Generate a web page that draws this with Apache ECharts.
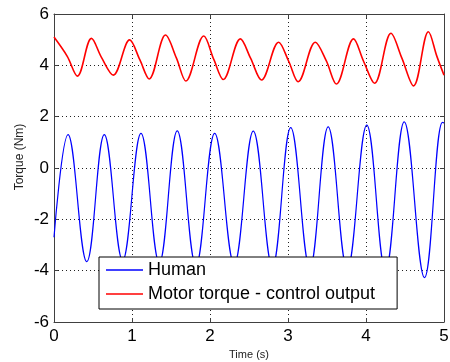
<!DOCTYPE html>
<html>
<head>
<meta charset="utf-8">
<script src="https://cdn.jsdelivr.net/npm/echarts@6/dist/echarts.min.js"></script>
<style>
  html, body { margin: 0; padding: 0; background: #fff; }
  #chart { width: 450px; height: 362px; }
</style>
</head>
<body>
<div id="chart"></div>
<script>
// values (time in s, torque in Nm)
var humanTime = [0, 0.18, 0.42, 0.645, 0.88, 1.115, 1.35, 1.58, 1.82, 2.06, 2.31, 2.555, 2.80, 3.035, 3.28, 3.515, 3.76, 4.01, 4.25, 4.49, 4.75, 4.98, 5.0];
var humanTorque = [-2.7, 1.3, -3.65, 1.3, -3.6, 1.35, -3.7, 1.45, -3.8, 1.35, -3.75, 1.44, -3.85, 1.57, -3.9, 1.6, -3.95, 1.67, -4.0, 1.8, -4.27, 1.78, 1.76];

// peak, knee on the way down, trough for every cycle
var motorTime = [0.00, 0.17, 0.30, 0.48, 0.61, 0.76, 0.97, 1.10, 1.22, 1.43, 1.57, 1.69,
    1.92, 2.05, 2.17, 2.39, 2.52, 2.66, 2.88, 3.01, 3.13, 3.35, 3.49, 3.62,
    3.84, 3.97, 4.11, 4.32, 4.46, 4.61, 4.80, 4.91, 5.00];
var motorTorque = [5.10, 4.35, 3.58, 5.05, 4.30, 3.62, 4.99, 4.22, 3.47, 5.18, 4.28, 3.39,
    5.14, 4.22, 3.45, 5.03, 4.28, 3.43, 4.90, 4.15, 3.36, 4.90, 4.18, 3.27,
    5.03, 4.15, 3.30, 5.25, 4.28, 3.20, 5.31, 4.34, 3.62];

var seriesNames = ['Human', 'Motor torque - control output'];
var xTicks = { min: 0, max: 5, interval: 1 };
var yTicks = { min: -6, max: 6, interval: 2 };

function pairs(xs, ys) {
    return xs.map(function (x, i) { return [x, ys[i]]; });
}

var font = 'Liberation Sans, Arial, sans-serif';
var axisColor = '#404040';

function axis(pos, showLabel, extra) {
    var a = {
        type: 'value',
        position: pos,
        axisLine: { show: true, onZero: false, lineStyle: { color: axisColor, width: 1 } },
        axisTick: { show: true, inside: true, length: 4, lineStyle: { color: axisColor } },
        axisLabel: { show: showLabel, color: '#000', fontSize: 17, fontFamily: font },
        splitLine: { show: false }
    };
    return Object.assign(a, extra);
}

var chart = echarts.init(document.getElementById('chart'), null, { renderer: 'canvas' });
var option = {
    backgroundColor: '#fff',
    animation: false,
    grid: { left: 54, right: 6, top: 14, bottom: 40, containLabel: false, outerBoundsMode: 'none' },
    legend: {
        orient: 'vertical',
        left: 99,
        top: 257,
        padding: [4, 22, 6, 7],
        itemGap: 6,
        itemWidth: 37,
        itemHeight: 1.5,
        icon: 'rect',
        backgroundColor: '#fff',
        borderColor: '#000',
        borderWidth: 1,
        borderRadius: 0,
        textStyle: { fontSize: 18, color: '#000', fontFamily: font },
        data: seriesNames
    },
    // y label sits a bit above the plot centre in the original
    graphic: [{
        type: 'text',
        x: 20,
        y: 157,
        rotation: Math.PI / 2,
        style: {
            text: 'Torque (Nm)',
            fontSize: 12,
            fontFamily: font,
            fill: '#222',
            align: 'center',
            verticalAlign: 'middle'
        }
    }],
    xAxis: [
        axis('bottom', true, Object.assign({}, xTicks, {
            name: 'Time (s)',
            nameLocation: 'middle',
            nameGap: 25,
            nameTextStyle: { fontSize: 11, color: '#222', fontFamily: font },
            axisLabel: { show: true, color: '#000', fontSize: 17, fontFamily: font, margin: 6 },
            splitLine: { show: true, lineStyle: { color: '#222', type: [1, 3], width: 1 } }
        })),
        axis('top', false, Object.assign({}, xTicks))
    ],
    yAxis: [
        axis('left', true, Object.assign({}, yTicks, {
            axisLabel: { show: true, color: '#000', fontSize: 17, fontFamily: font, margin: 5 },
            splitLine: { show: true, lineStyle: { color: '#222', type: [1, 3], width: 1 } }
        })),
        axis('right', false, Object.assign({}, yTicks))
    ],
    series: [
        {
            name: seriesNames[0],
            type: 'line',
            data: pairs(humanTime, humanTorque),
            showSymbol: false,
            smooth: 0.4,
            lineStyle: { color: '#0000ff', width: 1.2 },
            itemStyle: { color: '#0000ff' }
        },
        {
            name: seriesNames[1],
            type: 'line',
            data: pairs(motorTime, motorTorque),
            showSymbol: false,
            smooth: 0.35,
            lineStyle: { color: '#ff0000', width: 1.6 },
            itemStyle: { color: '#ff0000' }
        }
    ]
};
chart.setOption(option);
</script>
</body>
</html>
